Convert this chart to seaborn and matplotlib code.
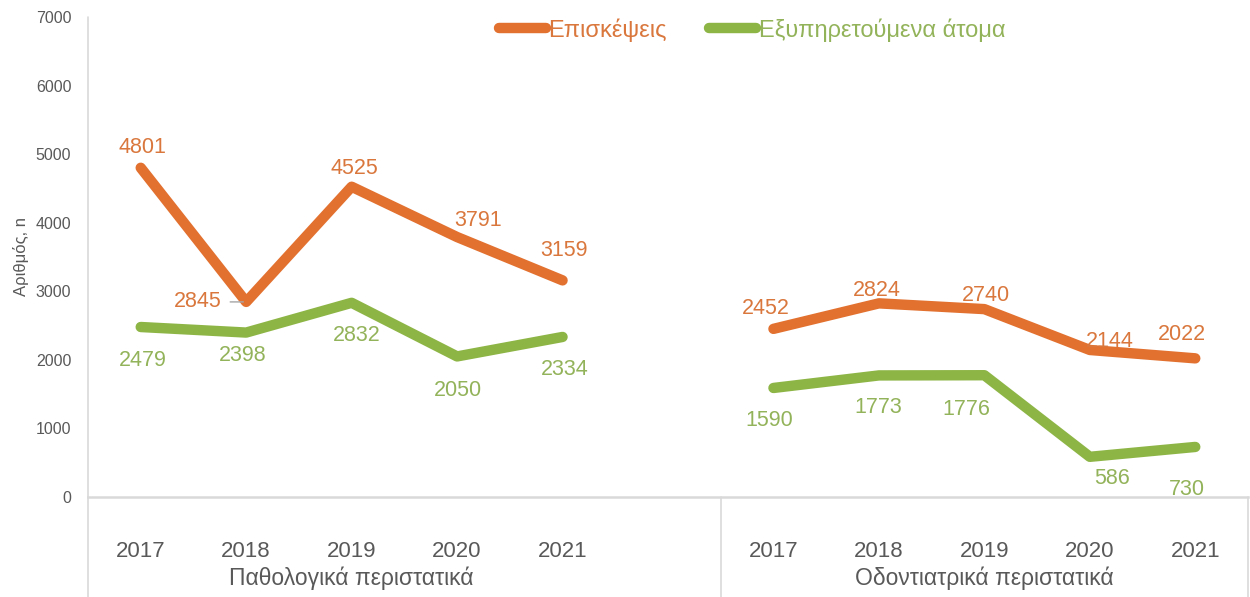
import matplotlib
matplotlib.use("Agg")
import matplotlib.pyplot as plt
from matplotlib.lines import Line2D
import seaborn as sns
import pandas as pd
import numpy as np

# ---- data ----
groups = ["Παθολογικά περιστατικά", "Οδοντιατρικά περιστατικά"]
years = ["2017", "2018", "2019", "2020", "2021"]
series_names = ["Επισκέψεις", "Εξυπηρετούμενα άτομα"]
visits_path = [4801, 2845, 4525, 3791, 3159]
served_path = [2479, 2398, 2832, 2050, 2334]
visits_dent = [2452, 2824, 2740, 2144, 2022]
served_dent = [1590, 1773, 1776, 586, 730]
y_ticks = [0, 1000, 2000, 3000, 4000, 5000, 6000, 7000]
y_label = "Αριθμός, n"

values = {
    (groups[0], series_names[0]): visits_path,
    (groups[0], series_names[1]): served_path,
    (groups[1], series_names[0]): visits_dent,
    (groups[1], series_names[1]): served_dent,
}

# label offsets (pixels) — style only
offsets = {
    (groups[0], series_names[0]): [(2, 20), (-48, 0), (3, 18), (21, 17), (1, 30)],
    (groups[0], series_names[1]): [(2, -33), (-3, -23), (5, -33), (1, -34), (2, -33)],
    (groups[1], series_names[0]): [(-8, 20), (-2, 13), (2, 14), (20, 8), (-13, 24)],
    (groups[1], series_names[1]): [(-4, -33), (-1, -32), (-18, -34), (22, -22), (-8, -43)],
}

rows = []
for gi, g in enumerate(groups):
    for s in series_names:
        for yi, yr in enumerate(years):
            rows.append({"group": g, "series": s, "year": yr,
                         "pos": gi * (len(years) + 1) + yi,
                         "value": values[(g, s)][yi]})
df = pd.DataFrame(rows)

orange = "#E2702F"
green = "#8DB546"
orange_txt = "#D9773D"
green_txt = "#93B35A"
palette = {series_names[0]: orange, series_names[1]: green}
txt_col = {series_names[0]: orange_txt, series_names[1]: green_txt}

sns.set_theme(style="white")
plt.rcParams['font.family'] = ['Liberation Sans', 'DejaVu Sans']
narrow = ['Liberation Sans Narrow', 'Liberation Sans', 'DejaVu Sans']

fig = plt.figure(figsize=(12.5, 5.97), dpi=100)
ax = fig.add_axes([88 / 1250, 100 / 597, 1160 / 1250, 480 / 597])

sns.lineplot(data=df, x="pos", y="value", hue="series", units="group",
             estimator=None, palette=palette, lw=7.5, legend=False,
             solid_capstyle="round", solid_joinstyle="round", ax=ax, sort=False)

# data labels
for (g, s), vals in values.items():
    gi = groups.index(g)
    for yi, v in enumerate(vals):
        x = gi * (len(years) + 1) + yi
        dx, dy = offsets[(g, s)][yi]
        ax.annotate(str(v), xy=(x, v), xytext=(dx, dy),
                    textcoords="offset pixels", ha="center", va="center",
                    fontsize=15.5, color=txt_col[s])
        if dx < -30:
            ax.annotate("", xy=(x, v), xytext=(-16, 0), textcoords="offset pixels",
                        arrowprops=dict(arrowstyle="-", color="#A6A6A6", lw=1,
                                        shrinkA=0, shrinkB=2))

n = len(years)
ax.set_xlim(-0.5, 2 * n + 0.5)
ax.set_ylim(0, 7000)
ax.set_yticks(y_ticks)
ax.set_yticklabels([str(t) for t in y_ticks], fontsize=11.5, color="#595959")
ax.tick_params(axis="y", length=0, pad=12)

xt = [gi * (n + 1) + yi for gi in range(len(groups)) for yi in range(n)]
ax.set_xticks(xt)
ax.set_xticklabels(years * len(groups), fontsize=16, color="#595959")
ax.tick_params(axis="x", length=0, pad=32)
ax.set_xlabel("")
ax.set_ylabel(y_label, fontsize=12, color="#595959", family=narrow, labelpad=5)

for sp in ["top", "right", "left"]:
    ax.spines[sp].set_visible(False)
ax.spines["bottom"].set_color("#D9D9D9")
ax.spines["bottom"].set_linewidth(1.8)
ax.grid(False)

# vertical separators extending below axis
trans = ax.get_xaxis_transform()
for xv, top in [(-0.5, 1.0), (n + 0.5, 0.0), (2 * n + 0.5, 0.0)]:
    ax.add_line(Line2D([xv, xv], [top, -100 / 480], transform=trans,
                       color="#D9D9D9", lw=1.2, clip_on=False))

# group labels
for gi, g in enumerate(groups):
    cx = gi * (n + 1) + (n - 1) / 2
    ax.text(cx, -81 / 480, g, transform=trans, ha="center", va="center",
            fontsize=16.5, color="#595959", family=narrow)

# legend
handles = [Line2D([0], [0], color=palette[s], lw=7.5, solid_capstyle="round")
           for s in series_names]
leg = ax.legend(handles, series_names, loc="center", bbox_to_anchor=(752 / 1250, 567 / 597),
                bbox_transform=fig.transFigure, ncol=2, frameon=False,
                handlelength=2.0, handletextpad=0.1, columnspacing=1.8,
                prop={"family": narrow, "size": 17})
for t, s in zip(leg.get_texts(), series_names):
    t.set_color(txt_col[s])

fig.savefig("out.png", dpi=100)
